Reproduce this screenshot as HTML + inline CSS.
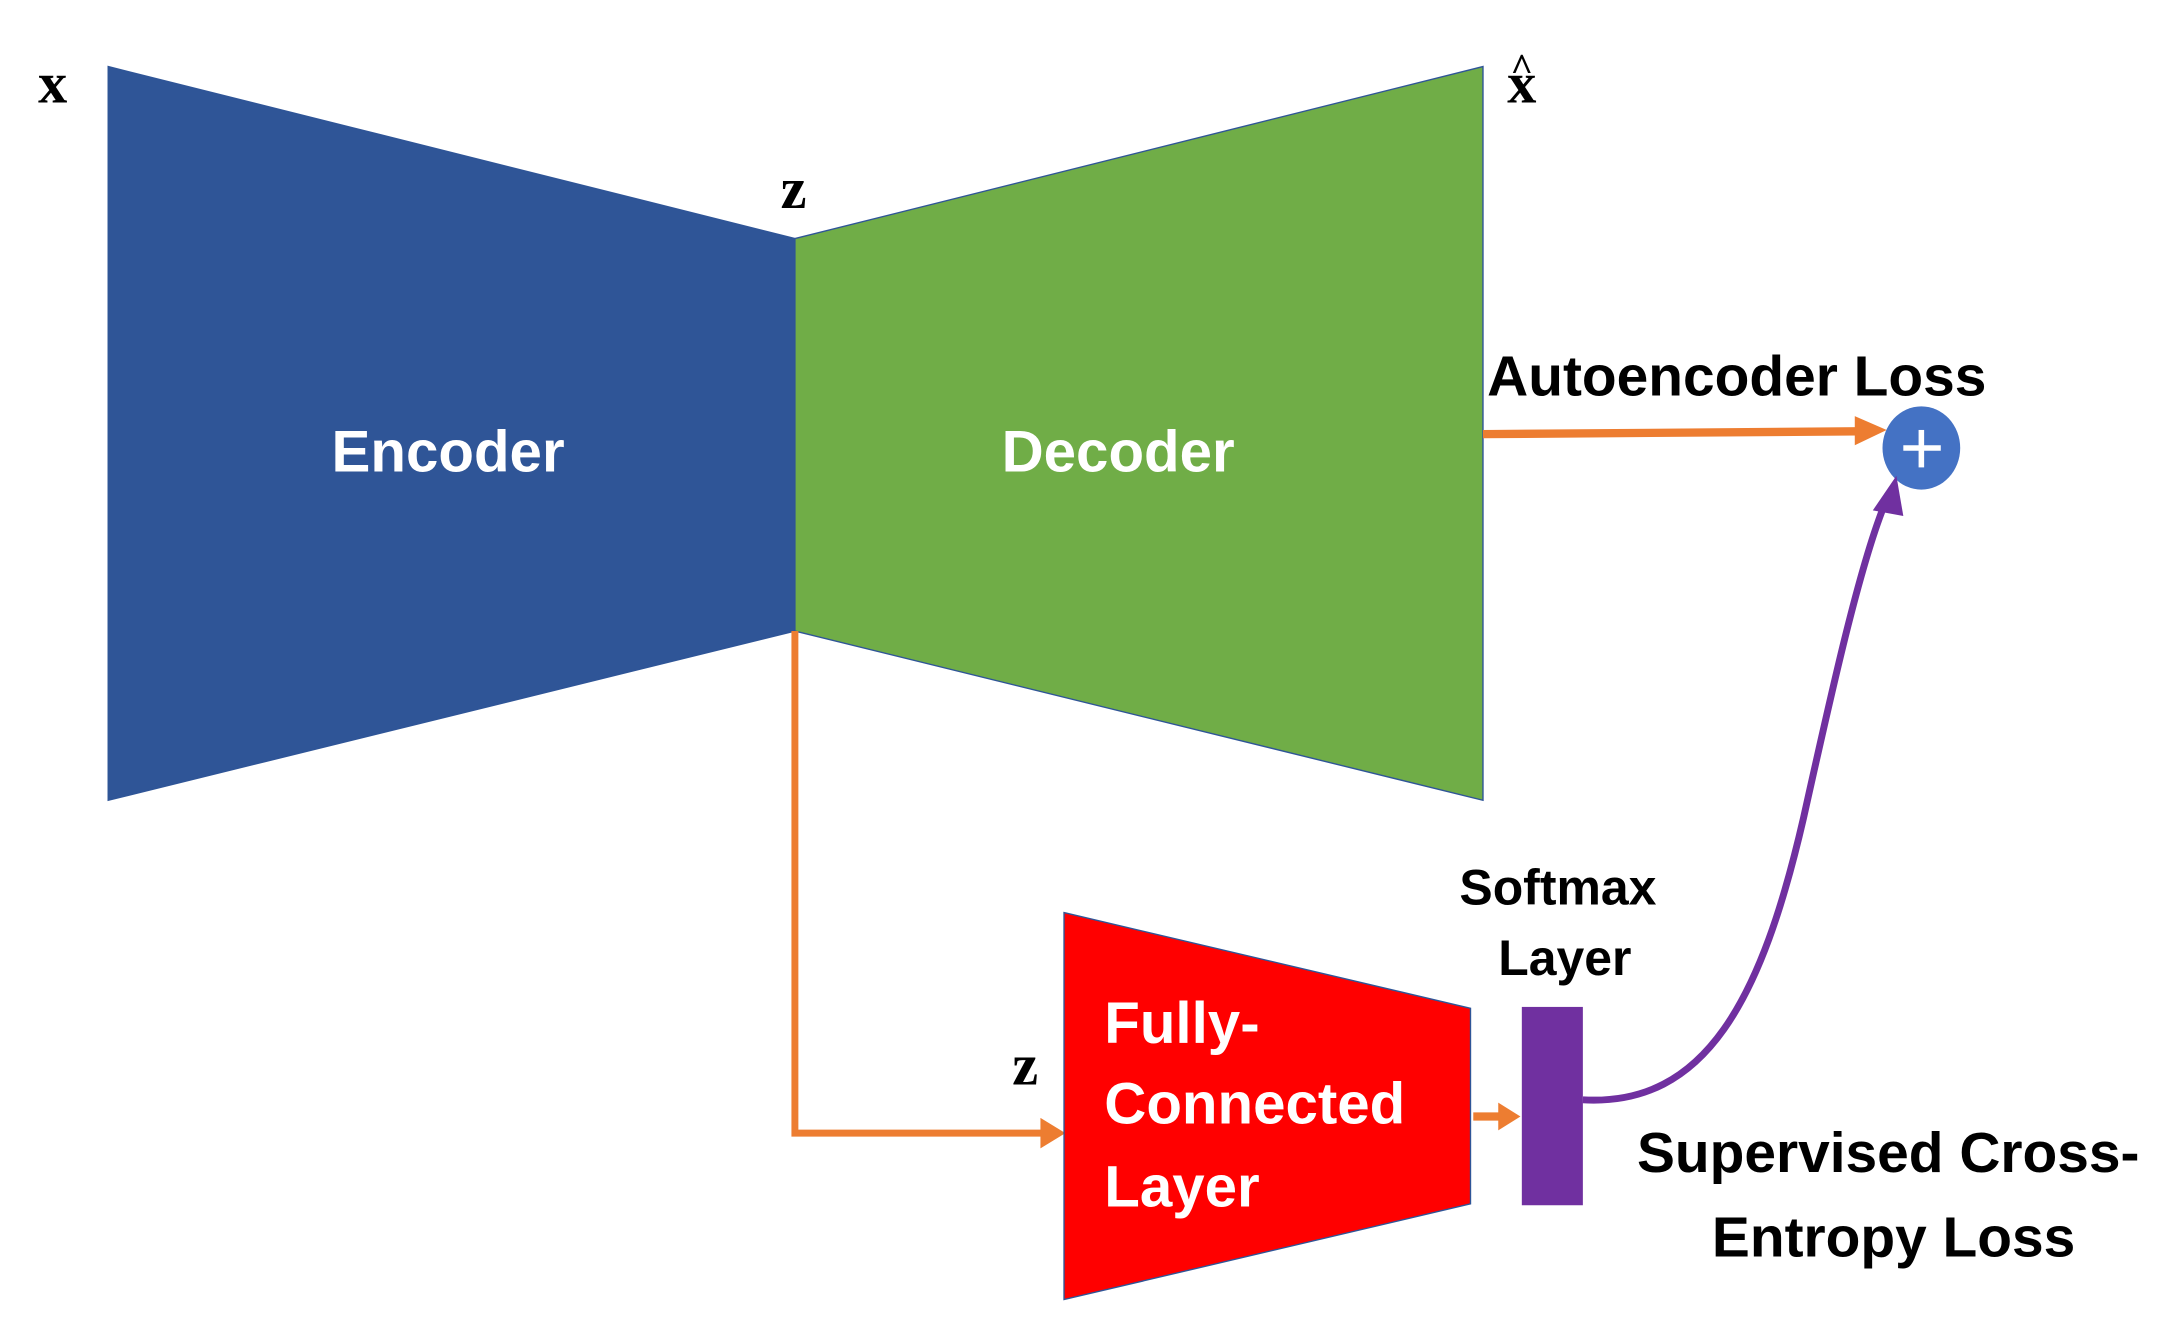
<!DOCTYPE html>
<html><head><meta charset="utf-8"><style>
html,body{margin:0;padding:0;background:#fff;}
svg{display:block;}
.s{font-family:"Liberation Sans","DejaVu Sans",sans-serif;font-weight:bold;}
.r{font-family:"Liberation Serif",serif;font-weight:bold;}
</style></head><body>
<svg width="2175" height="1327" viewBox="0 0 1560 952" preserveAspectRatio="none" xmlns="http://www.w3.org/2000/svg">
<rect width="1560" height="952" fill="#fff"/>
<g transform="scale(0.995)">
<polygon points="78,48 573,172 573,455 78,577" fill="#2F5597" stroke="#2F5597"/>
<polygon points="573,172 1069,48 1069,577 573,455" fill="#70AD47" stroke="#2F5597" stroke-width="1"/>
<text class="r" x="38" y="74" font-size="42" text-anchor="middle">x</text>
<text class="r" x="572" y="150" font-size="42" text-anchor="middle">z</text>
<text class="r" x="1097" y="74" font-size="42" text-anchor="middle">x</text>
<text class="r" x="1097" y="58" font-size="28" text-anchor="middle">^</text>
<text class="s" x="323" y="340" font-size="42" fill="#fff" text-anchor="middle">Encoder</text>
<text class="s" x="806" y="340" font-size="42" fill="#fff" text-anchor="middle">Decoder</text>
<text class="s" x="1072" y="285" font-size="41">Autoencoder Loss</text>
<line x1="1069" y1="313" x2="1340" y2="311" stroke="#ED7D31" stroke-width="6"/>
<polygon points="1337,300 1360,310 1337,321" fill="#ED7D31"/>
<ellipse cx="1385" cy="323" rx="28" ry="30" fill="#4472C4"/>
<line x1="1372" y1="323" x2="1399" y2="323" stroke="#fff" stroke-width="4"/>
<line x1="1385" y1="310" x2="1385" y2="337" stroke="#fff" stroke-width="4"/>
<polyline points="573,455 573,817 752,817" fill="none" stroke="#ED7D31" stroke-width="5"/>
<polygon points="750,806 768,817 750,828" fill="#ED7D31"/>
<polygon points="767,658 1060,727 1060,868 767,937" fill="#FF0000" stroke="#2F5597" stroke-width="1"/>
<text class="r" x="739" y="782" font-size="42" text-anchor="middle">z</text>
<text class="s" x="796" y="752" font-size="42" fill="#fff">Fully-</text>
<text class="s" x="796" y="810" font-size="42" fill="#fff">Connected</text>
<text class="s" x="796" y="870" font-size="42" fill="#fff">Layer</text>
<line x1="1062" y1="805" x2="1082" y2="805" stroke="#ED7D31" stroke-width="6"/>
<polygon points="1080,795 1096,805 1080,815" fill="#ED7D31"/>
<rect x="1097" y="726" width="44" height="143" fill="#7030A0"/>
<text class="s" x="1123" y="652" font-size="36" text-anchor="middle">Softmax</text>
<text class="s" x="1128" y="703" font-size="36" text-anchor="middle">Layer</text>
<path d="M1141,793 C1230,798 1270,720 1300,590 C1320,500 1340,410 1358,365" fill="none" stroke="#7030A0" stroke-width="5"/>
<polygon points="1350,368 1367,343 1372,372" fill="#7030A0"/>
<text class="s" x="1180" y="845" font-size="41">Supervised Cross-</text>
<text class="s" x="1365" y="906" font-size="41" text-anchor="middle">Entropy Loss</text>
</g>
</svg>
</body></html>
